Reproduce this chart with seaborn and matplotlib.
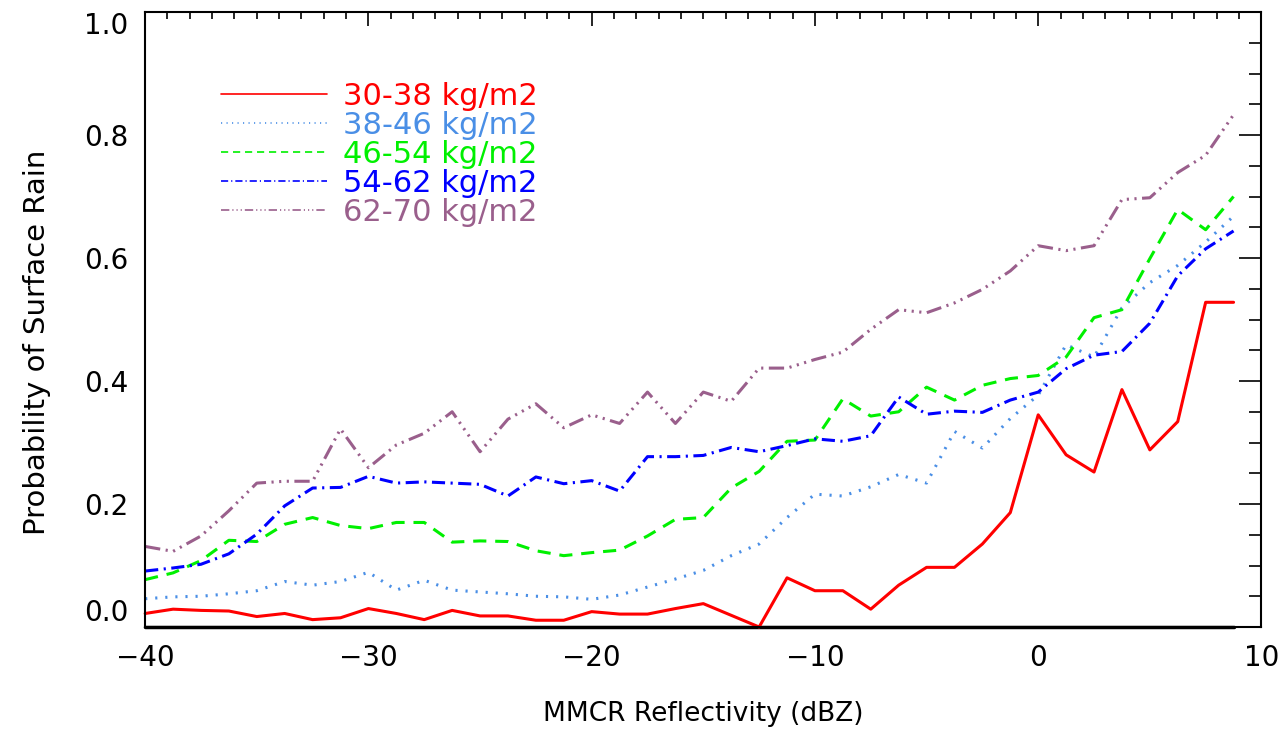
import numpy as np
import pandas as pd
import matplotlib
matplotlib.use("Agg")
import matplotlib.pyplot as plt
import seaborn as sns

# reflectivity bins (dBZ)
reflectivity = np.arange(-40, 9.0, 1.25)

# probability of surface rain, one list per column water vapour class
pwv_30_38 = [0.022, 0.029, 0.027, 0.026, 0.017, 0.022, 0.012, 0.015, 0.030, 0.022,
             0.012, 0.027, 0.018, 0.018, 0.011, 0.011, 0.025, 0.021, 0.021, 0.030,
             0.038, 0.019, 0.000, 0.080, 0.059, 0.059, 0.029, 0.068, 0.097, 0.097,
             0.135, 0.186, 0.345, 0.280, 0.252, 0.386, 0.288, 0.334, 0.528, 0.528]
pwv_38_46 = [0.046, 0.049, 0.050, 0.054, 0.059, 0.074, 0.068, 0.074, 0.089, 0.060,
             0.076, 0.060, 0.057, 0.054, 0.050, 0.049, 0.045, 0.052, 0.065, 0.078,
             0.092, 0.116, 0.135, 0.178, 0.216, 0.213, 0.228, 0.248, 0.234, 0.318,
             0.291, 0.339, 0.377, 0.459, 0.439, 0.519, 0.560, 0.588, 0.626, 0.668]
pwv_46_54 = [0.077, 0.088, 0.108, 0.141, 0.139, 0.167, 0.178, 0.165, 0.160, 0.170,
             0.170, 0.138, 0.140, 0.139, 0.124, 0.116, 0.121, 0.125, 0.148, 0.175,
             0.178, 0.226, 0.253, 0.302, 0.304, 0.371, 0.343, 0.350, 0.390, 0.369,
             0.393, 0.404, 0.409, 0.439, 0.503, 0.516, 0.599, 0.679, 0.646, 0.700]
pwv_54_62 = [0.091, 0.096, 0.102, 0.119, 0.151, 0.197, 0.226, 0.227, 0.245, 0.234,
             0.236, 0.234, 0.232, 0.213, 0.244, 0.233, 0.238, 0.221, 0.277, 0.277,
             0.279, 0.292, 0.285, 0.295, 0.306, 0.302, 0.311, 0.374, 0.346, 0.351,
             0.349, 0.369, 0.382, 0.420, 0.442, 0.448, 0.494, 0.571, 0.615, 0.644]
pwv_62_70 = [0.131, 0.123, 0.148, 0.189, 0.234, 0.237, 0.237, 0.322, 0.259, 0.296,
             0.315, 0.350, 0.285, 0.338, 0.363, 0.324, 0.345, 0.331, 0.382, 0.331,
             0.382, 0.367, 0.421, 0.421, 0.435, 0.447, 0.484, 0.516, 0.511, 0.527,
             0.549, 0.579, 0.620, 0.612, 0.620, 0.695, 0.698, 0.739, 0.767, 0.833]

labels = ["30-38 kg/m2", "38-46 kg/m2", "46-54 kg/m2", "54-62 kg/m2", "62-70 kg/m2"]
series = [pwv_30_38, pwv_38_46, pwv_46_54, pwv_54_62, pwv_62_70]

colors = ["#ff0000", "#4a8fe6", "#00f000", "#0000ff", "#9a5f8c"]
styles = ["-",
          (0, (0.7, 2.6)),
          (0, (4.3, 2.9)),
          (0, (4.3, 1.8, 0.7, 1.8)),
          (0, (5.0, 1.8, 0.7, 1.8, 0.7, 1.8, 0.7, 1.8))]

sns.set_style("white")
plt.rcParams['font.family'] = ['DejaVu Sans']
plt.rcParams['text.color'] = 'black'
plt.rcParams['axes.labelcolor'] = 'black'
plt.rcParams['xtick.color'] = 'black'
plt.rcParams['ytick.color'] = 'black'

fig = plt.figure(figsize=(12.88, 7.38), dpi=100)
ax = fig.add_axes([0.1127, 0.1504, 0.8667, 0.8333])

for lab, vals, c, ls in zip(labels, series, colors, styles):
    df = pd.DataFrame({"dbz": reflectivity, "prob": vals})
    sns.lineplot(data=df, x="dbz", y="prob", ax=ax, color=c, linestyle=ls,
                 linewidth=2.2, label=lab, clip_on=False)

# zero line along the bottom (IDL draws it over the axis)
ax.plot(reflectivity, np.zeros_like(reflectivity), color="black", lw=2.5,
        clip_on=False, zorder=1)

ax.set_xlim(-40, 10)
ax.set_ylim(0, 1.0)
ax.set_xticks([-40, -30, -20, -10, 0, 10])
ax.set_xticks(np.arange(-40, 10, 1), minor=True)
ax.set_yticks([0.0, 0.2, 0.4, 0.6, 0.8, 1.0])
ax.set_yticks(np.arange(0, 1.0001, 0.05), minor=True)
ax.set_yticklabels(["0.0", "0.2", "0.4", "0.6", "0.8", "1.0"])

ax.tick_params(axis="both", which="both", direction="in", top=True, right=True,
               color="black", labelcolor="black", labelsize=20, width=1.2)
ax.tick_params(axis="x", which="major", length=10, pad=12)
ax.tick_params(axis="x", which="minor", length=5)
ax.tick_params(axis="y", which="major", length=16, pad=12)
ax.tick_params(axis="y", which="minor", length=9)

# end labels kept inside the frame like IDL does
ylabs = ax.get_yticklabels()
ylabs[0].set_va("bottom")
ylabs[-1].set_va("top")

for sp in ax.spines.values():
    sp.set_visible(True)
    sp.set_color("black")
    sp.set_linewidth(1.5)

ax.set_xlabel("MMCR Reflectivity (dBZ)", fontsize=19, color="black")
ax.set_ylabel("Probability of Surface Rain", fontsize=21, color="black")
ax.xaxis.set_label_coords(0.5, -0.12)
ax.yaxis.set_label_coords(-0.084, 0.463)

leg = ax.legend(loc="upper left", bbox_to_anchor=(0.068, 0.887), frameon=False,
                fontsize=22, handlelength=3.46, handletextpad=0.52,
                labelspacing=0.0, borderpad=0, borderaxespad=0,
                labelcolor="linecolor")
for h in leg.get_lines():
    h.set_linewidth(1.2)

fig.savefig("out.png", dpi=100, facecolor="white")
